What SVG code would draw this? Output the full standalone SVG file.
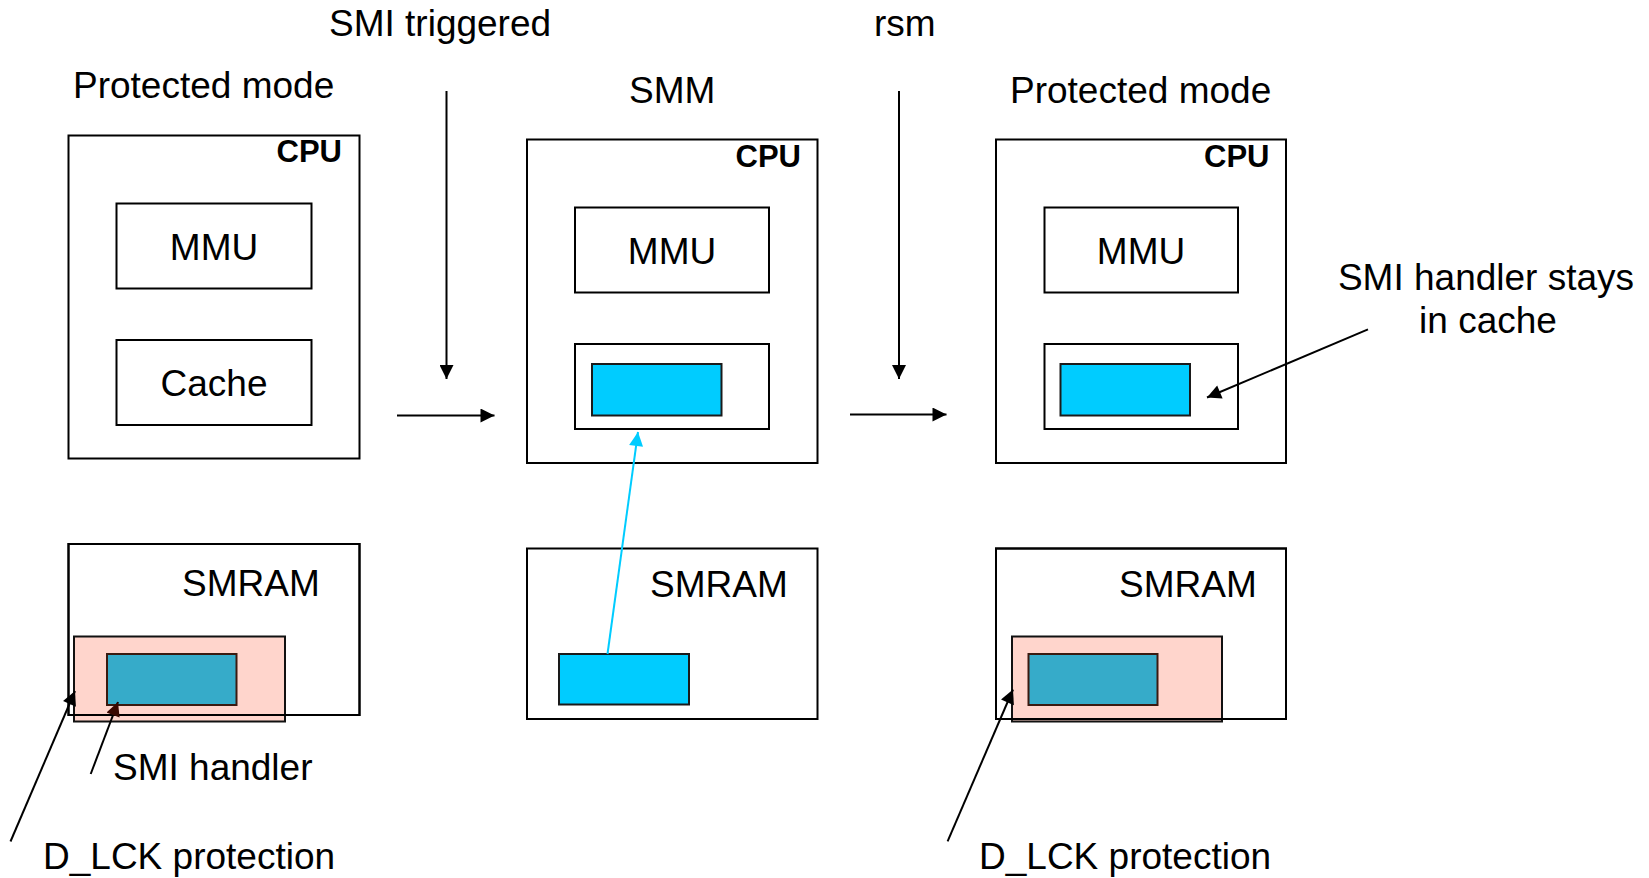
<svg xmlns="http://www.w3.org/2000/svg" width="1649" height="878" viewBox="0 0 1649 878">
<style>
text{font-family:"Liberation Sans",Arial,sans-serif;font-size:37px;fill:#000}
.cpu{font-size:31px;font-weight:bold;text-anchor:end}
.mid{text-anchor:middle}
.box{fill:#fff;stroke:#000;stroke-width:2}
.frame{fill:none;stroke:#000;stroke-width:2}
.blue{fill:#00ccff;stroke:#1a1a1a;stroke-width:2}
.teal{fill:#36abc9;stroke:#3a1a10;stroke-width:2}
.pink{fill:#ffd5cc;stroke:#111;stroke-width:2}
.ln{stroke:#000;stroke-width:2;fill:none}
</style>
<defs>
<marker id="ah" viewBox="0 0 10 10" refX="10" refY="5" markerWidth="16" markerHeight="14" markerUnits="userSpaceOnUse" orient="auto"><path d="M0,0 L10,5 L0,10 z" fill="#000"/></marker>
<marker id="ahb" viewBox="0 0 10 10" refX="10" refY="5" markerWidth="16" markerHeight="14" markerUnits="userSpaceOnUse" orient="auto"><path d="M0,0 L10,5 L0,10 z" fill="#3a0800"/></marker>
<marker id="ahc" viewBox="0 0 10 10" refX="10" refY="5" markerWidth="16" markerHeight="14" markerUnits="userSpaceOnUse" orient="auto"><path d="M0,0 L10,5 L0,10 z" fill="#00ccff"/></marker>
</defs>
<rect width="1649" height="878" fill="#fff"/>

<g id="labels">
<text x="329" y="36">SMI triggered</text>
<text x="874" y="36">rsm</text>
<text x="73" y="98">Protected mode</text>
<text x="629" y="103">SMM</text>
<text x="1010" y="103">Protected mode</text>
<text x="1486" y="290" class="mid">SMI handler stays</text>
<text x="1488" y="333" class="mid">in cache</text>
<text x="113" y="780">SMI handler</text>
<text x="43" y="869">D_LCK protection</text>
<text x="979" y="869">D_LCK protection</text>
</g>

<g id="cpu1">
<rect class="box" x="68.5" y="135.5" width="291" height="323"/>
<text class="cpu" x="342" y="162">CPU</text>
<rect class="box" x="116.5" y="203.5" width="195" height="85"/>
<text class="mid" x="214" y="260">MMU</text>
<rect class="box" x="116.5" y="340" width="195" height="85"/>
<text class="mid" x="214" y="396">Cache</text>
</g>

<g id="smram1">
<rect class="box" x="68.5" y="544" width="291" height="171"/>
<rect class="pink" x="74" y="636.5" width="211" height="85"/>
<rect class="frame" x="68.5" y="544" width="291" height="171"/>
<rect class="teal" x="107" y="654" width="129.5" height="51"/>
<text x="182" y="596">SMRAM</text>
</g>

<g id="cpu2">
<rect class="box" x="527" y="139.5" width="290.5" height="323.5"/>
<text class="cpu" x="801" y="167">CPU</text>
<rect class="box" x="575" y="207.5" width="194" height="85"/>
<text class="mid" x="672" y="264">MMU</text>
<rect class="box" x="575" y="344" width="194" height="85"/>
<rect class="blue" x="592" y="364" width="129.5" height="51.5"/>
</g>

<g id="smram2">
<rect class="box" x="527" y="548.5" width="290.5" height="170.5"/>
<text x="650" y="597">SMRAM</text>
<rect class="blue" x="559" y="654" width="130" height="50.5"/>
</g>

<g id="cpu3">
<rect class="box" x="996" y="139.5" width="290" height="323.5"/>
<text class="cpu" x="1269.5" y="167">CPU</text>
<rect class="box" x="1044.5" y="207.5" width="193.5" height="85"/>
<text class="mid" x="1141" y="264">MMU</text>
<rect class="box" x="1044.5" y="344" width="193.5" height="85"/>
<rect class="blue" x="1060.5" y="364" width="129.5" height="51.5"/>
</g>

<g id="smram3">
<rect class="box" x="996" y="548.5" width="290" height="170.5"/>
<rect class="pink" x="1012" y="636.5" width="210" height="85"/>
<rect class="frame" x="996" y="548.5" width="290" height="170.5"/>
<rect class="teal" x="1028.5" y="654" width="129" height="51"/>
<text x="1119" y="597">SMRAM</text>
</g>

<g id="connectors">
<line class="ln" x1="446.5" y1="91" x2="446.5" y2="379" marker-end="url(#ah)"/>
<line class="ln" x1="397" y1="415.5" x2="494.5" y2="415.5" marker-end="url(#ah)"/>
<line class="ln" x1="899" y1="91" x2="899" y2="379" marker-end="url(#ah)"/>
<line class="ln" x1="850" y1="414.5" x2="946.5" y2="414.5" marker-end="url(#ah)"/>
<line x1="607.5" y1="654" x2="638" y2="432" stroke="#00ccff" stroke-width="2" marker-end="url(#ahc)"/>
<line class="ln" x1="10.5" y1="841.5" x2="75" y2="691" marker-end="url(#ah)"/>
<line class="ln" x1="90.7" y1="774" x2="118" y2="702" marker-end="url(#ahb)"/>
<line class="ln" x1="947.6" y1="841.3" x2="1013" y2="689.5" marker-end="url(#ah)"/>
<line class="ln" x1="1368" y1="329.3" x2="1207" y2="397.5" marker-end="url(#ah)"/>
</g>
</svg>
